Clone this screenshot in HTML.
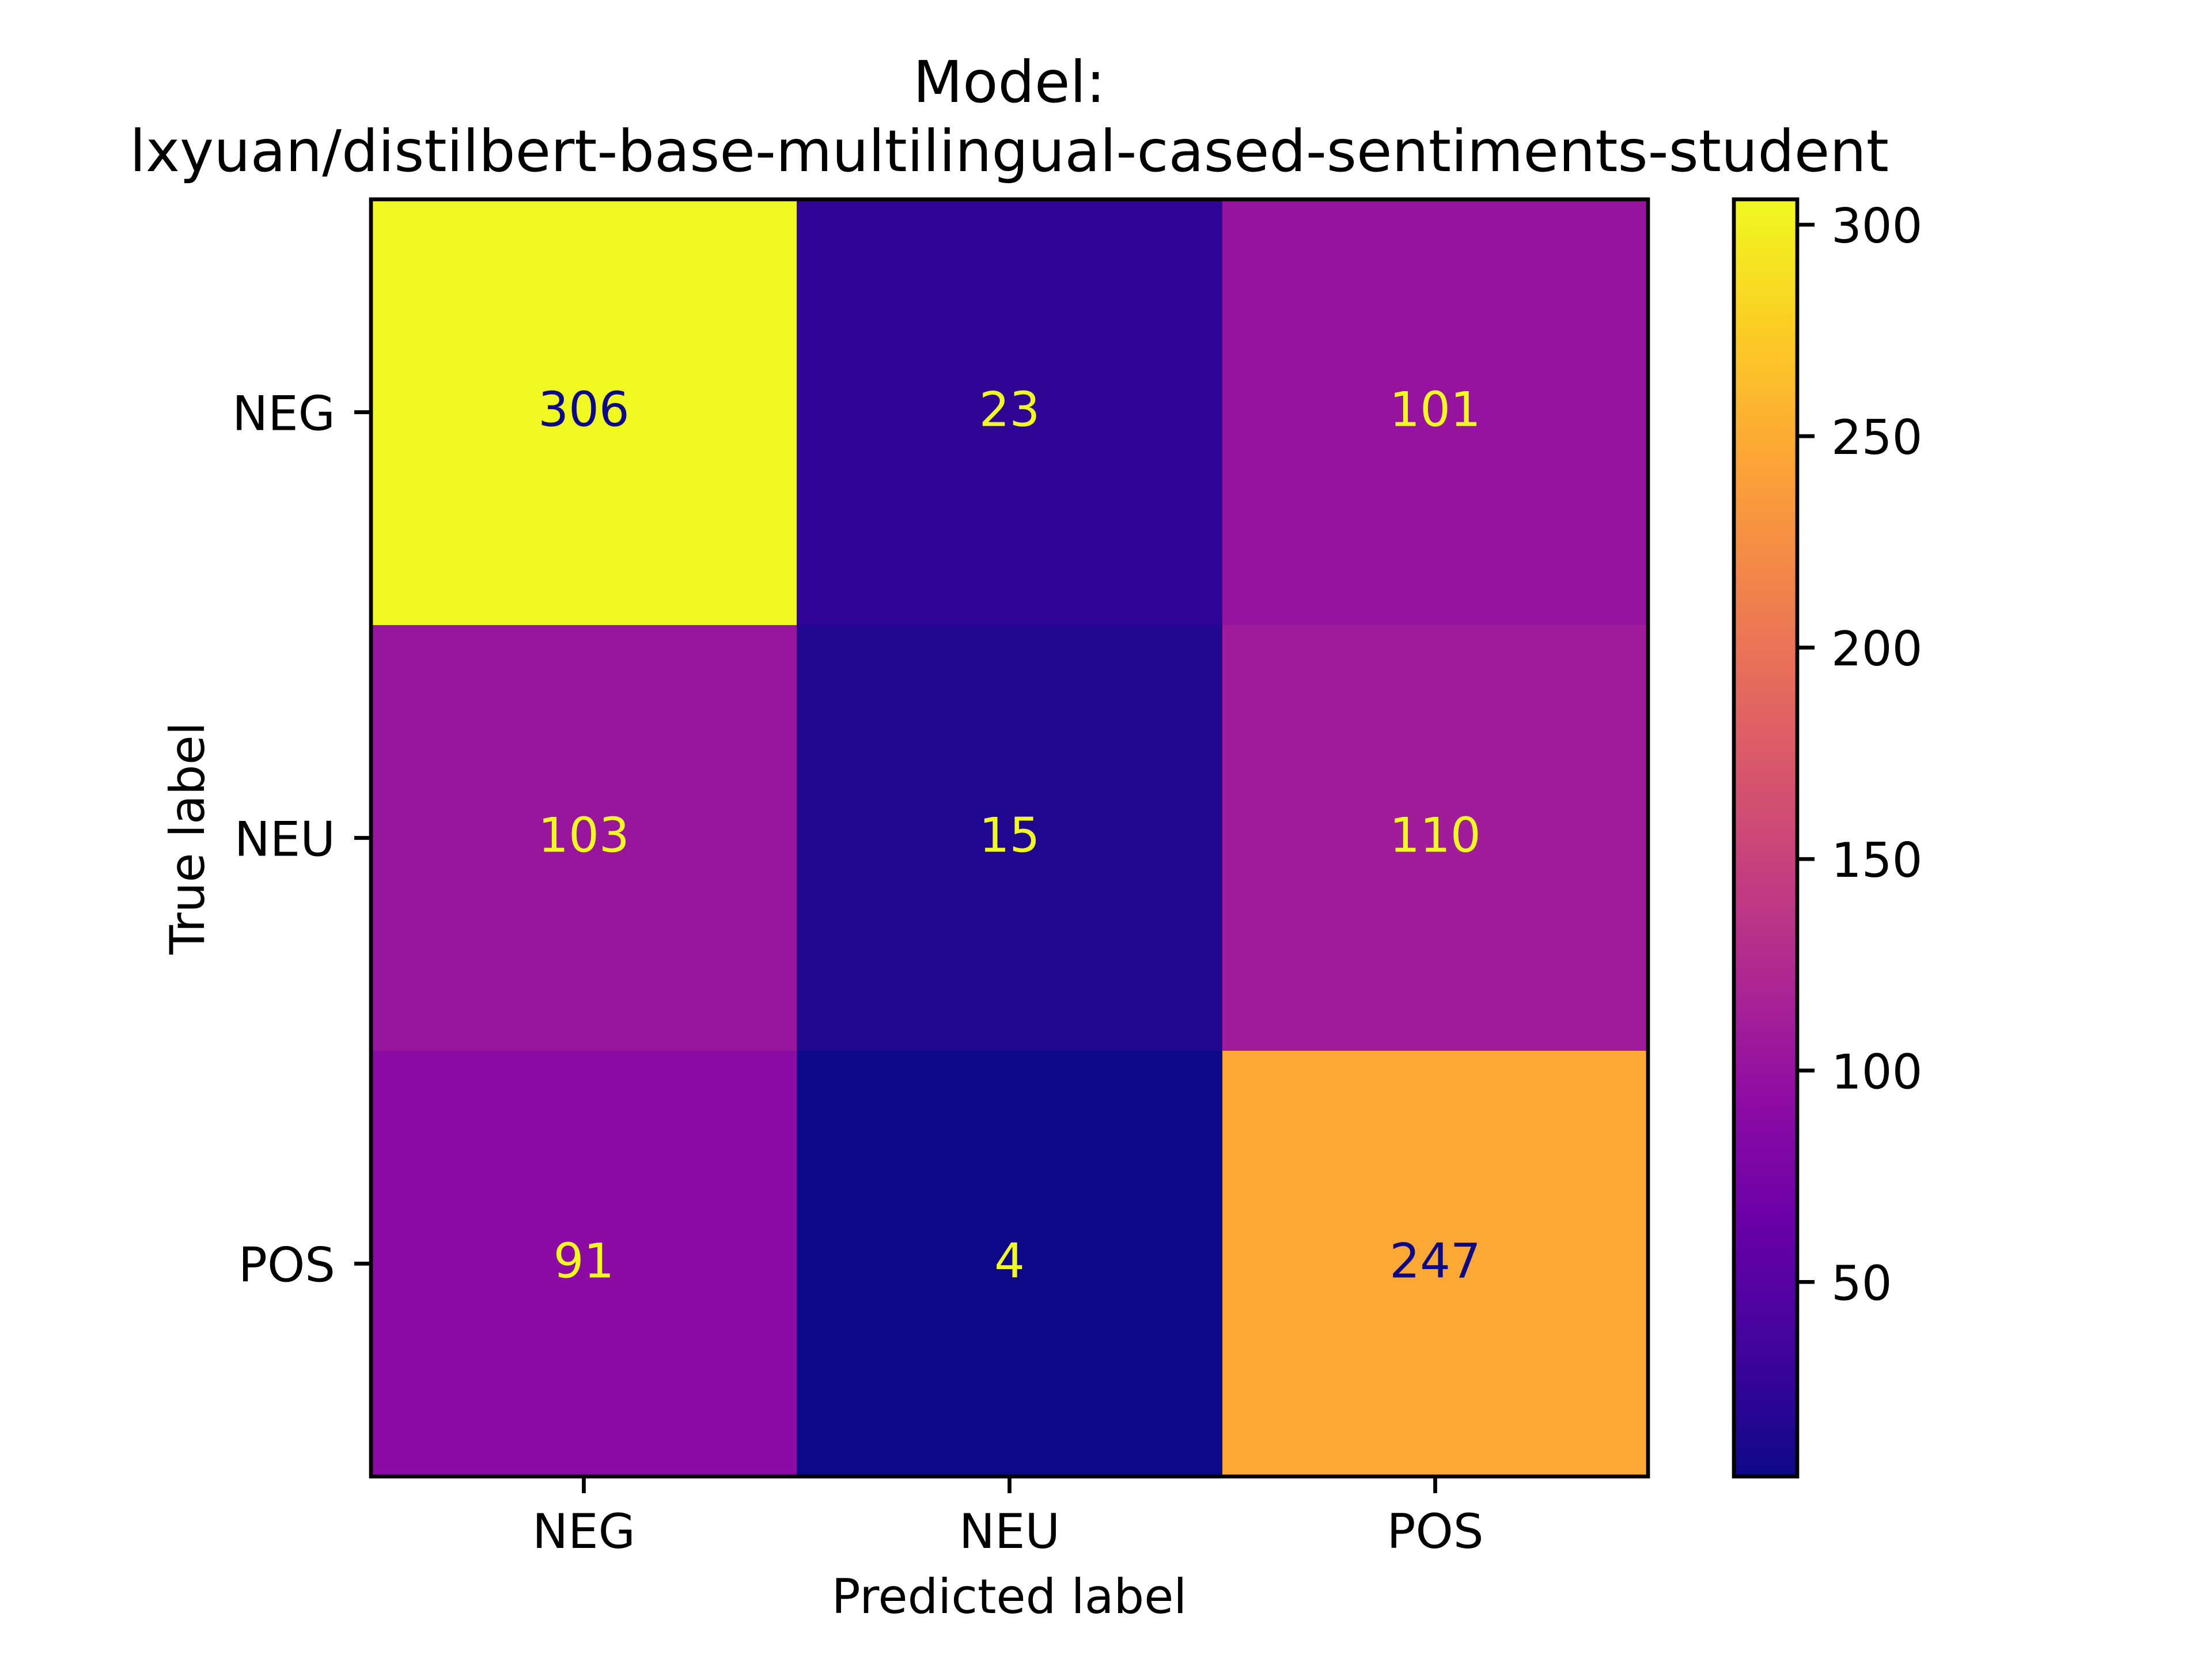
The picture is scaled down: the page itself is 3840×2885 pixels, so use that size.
<!DOCTYPE html>
<html><head><meta charset="utf-8"><style>
html,body{margin:0;padding:0;background:#fff;}
svg text{font-family:"DejaVu Sans","Liberation Sans",sans-serif;}
</style></head><body>
<svg id="fig" xmlns="http://www.w3.org/2000/svg" width="3840" height="2880" viewBox="0 0 3840 2880">
<rect width="3840" height="2880" fill="#fff"/>
<defs>
<linearGradient id="plasma" x1="0" y1="1" x2="0" y2="0">
<stop offset="0" stop-color="#0d0887"/><stop offset="0.1" stop-color="#41049d"/><stop offset="0.2" stop-color="#6a00a8"/><stop offset="0.3" stop-color="#8f0da4"/><stop offset="0.4" stop-color="#b12a90"/><stop offset="0.5" stop-color="#cc4778"/><stop offset="0.6" stop-color="#e16462"/><stop offset="0.7" stop-color="#f2844b"/><stop offset="0.8" stop-color="#fca636"/><stop offset="0.9" stop-color="#fcce25"/><stop offset="1" stop-color="#f0f921"/>
</linearGradient>
</defs>
<text x="1752" y="177" font-size="100" text-anchor="middle">Model:</text>
<text x="1752" y="297" font-size="100" text-anchor="middle">lxyuan/distilbert-base-multilingual-cased-sentiments-student</text>
<g id="cells"></g>
<g id="annots"></g>
<rect x="644" y="346" width="2217" height="2217" fill="none" stroke="#000" stroke-width="6.7"/>
<g id="axes"></g>
<text x="1752" y="2800" font-size="83" text-anchor="middle">Predicted label</text>
<text transform="translate(354,1455) rotate(-90)" font-size="83" text-anchor="middle">True label</text>
<rect x="3010" y="346" width="110" height="2217" fill="url(#plasma)" stroke="#000" stroke-width="6.7"/>
<g id="cbar"></g>
</svg>
<script>
const categories = ["NEG","NEU","POS"];
const trueLabels = ["NEG","NEU","POS"];
const rowNEG = [306,23,101];
const rowNEU = [103,15,110];
const rowPOS = [91,4,247];
const cbarTicks = [50,100,150,200,250,300];

const matrix = [rowNEG,rowNEU,rowPOS];
const NS="http://www.w3.org/2000/svg";
const AX={x0:644,x1:2861,y0:346,y1:2563};
const flat=[].concat(...matrix);
const vmin=Math.min(...flat), vmax=Math.max(...flat);
const nC=categories.length, nR=trueLabels.length;
const cw=(AX.x1-AX.x0)/nC, ch=(AX.y1-AX.y0)/nR;
const xPos=i=>AX.x0+cw*(i+0.5);
const yPos=j=>AX.y0+ch*(j+0.5);
const cbY=v=>AX.y1-(v-vmin)/(vmax-vmin)*(AX.y1-AX.y0);
const stops=["#0d0887","#41049d","#6a00a8","#8f0da4","#b12a90","#cc4778","#e16462","#f2844b","#fca636","#fcce25","#f0f921"];
function hex(c){return [1,3,5].map(k=>parseInt(c.substr(k,2),16));}
function plasma(t){t=Math.max(0,Math.min(1,t));const p=t*10,i=Math.min(9,Math.floor(p)),f=p-i;const a=hex(stops[i]),b=hex(stops[i+1]);return "rgb("+a.map((v,k)=>Math.round(v+(b[k]-v)*f)).join(",")+")";}
function mk(tag,attrs,parent,txt){const e=document.createElementNS(NS,tag);for(const k in attrs)e.setAttribute(k,attrs[k]);if(txt!==undefined)e.textContent=txt;document.getElementById(parent).appendChild(e);return e;}
for(let r=0;r<nR;r++){for(let c=0;c<nC;c++){
  const v=matrix[r][c];
  const rc=mk("rect",{x:xPos(c)-cw/2,y:yPos(r)-ch/2,width:cw+0.5,height:ch+0.5,fill:plasma((v-vmin)/(vmax-vmin))},"cells");
  
  
  const tx=mk("text",{x:xPos(c),y:yPos(r)+24,"font-size":83,"text-anchor":"middle",fill:(v<(vmin+vmax)/2)?"#f0f921":"#0d0887"},"annots",String(v));
  
  
}}
categories.forEach((c,i)=>{
  const t=mk("line",{x1:xPos(i),x2:xPos(i),y1:AX.y1,y2:AX.y1+29,stroke:"#000","stroke-width":6.7},"axes");
  
  
  const l=mk("text",{x:xPos(i),y:2687,"font-size":83,"text-anchor":"middle"},"axes",c);
  
  
});
trueLabels.forEach((c,j)=>{
  const t=mk("line",{x1:AX.x0-29,x2:AX.x0,y1:yPos(j),y2:yPos(j),stroke:"#000","stroke-width":6.7},"axes");
  
  
  const l=mk("text",{x:AX.x0-62,y:yPos(j)+31,"font-size":83,"text-anchor":"end"},"axes",c);
  
  
});
cbarTicks.forEach(v=>{
  const t=mk("line",{x1:3120,x2:3150,y1:cbY(v),y2:cbY(v),stroke:"#000","stroke-width":6.7},"cbar");
  
  
  const l=mk("text",{x:3179,y:cbY(v)+31,"font-size":83},"cbar",String(v));
  
  
});
</script>
</body></html>
